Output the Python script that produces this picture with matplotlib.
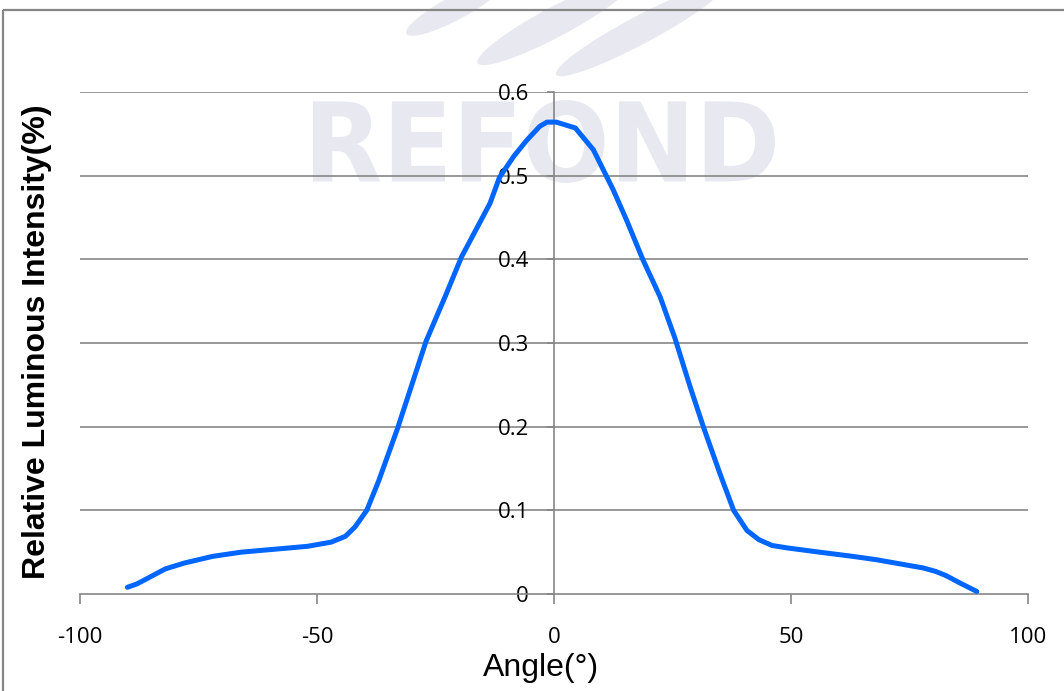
import matplotlib
matplotlib.use("Agg")
import matplotlib.pyplot as plt
from matplotlib.patches import Rectangle, Ellipse, PathPatch
from matplotlib.textpath import TextPath
from matplotlib.font_manager import FontProperties
from matplotlib.transforms import Affine2D

# beam profile
angle = [-90, -88, -85, -82, -78, -72, -66, -60, -52, -47, -44, -42, -39.5, -37,
         -33, -30, -27, -23, -19.5, -16.5, -13.5, -11.5, -8.5, -5.8, -3, -1.5,
         0.5, 4.5, 8.3, 12.5, 15.3, 18.8, 22.4, 25.5, 28.7, 31.5, 35, 37.9,
         40.7, 43.2, 46, 49.3, 56, 63, 68, 72, 78, 80.5, 82.7, 85.7, 89.2]
intensity = [0.008, 0.012, 0.021, 0.030, 0.037, 0.045, 0.050, 0.053, 0.057,
             0.062, 0.069, 0.080, 0.100, 0.135, 0.198, 0.250, 0.302, 0.355,
             0.403, 0.435, 0.467, 0.498, 0.523, 0.542, 0.559, 0.564, 0.564,
             0.557, 0.531, 0.483, 0.447, 0.399, 0.355, 0.306, 0.248, 0.200,
             0.144, 0.100, 0.076, 0.065, 0.058, 0.055, 0.050, 0.045, 0.041,
             0.037, 0.031, 0.027, 0.022, 0.013, 0.003]
x_ticks = [-100, -50, 0, 50, 100]
y_ticks = [0, 0.1, 0.2, 0.3, 0.4, 0.5, 0.6]

W, H = 1064, 691
GRAY = '#868686'
WM = '#e8e9f0'

fig = plt.figure(figsize=(W / 100, H / 100), dpi=100)
# pixel coords, origin top-left
px = Affine2D().scale(1, -1).translate(0, H)

# outer chart frame
fig.patches.append(Rectangle((3, 10), W + 20, H + 20, transform=px, fill=False,
                             edgecolor=GRAY, linewidth=1.6, zorder=0.5))

# watermark logo
for cx, cy, ln, wd in [(455, 8, 110, 24), (555, 22, 175, 30), (640, 30, 190, 28)]:
    fig.patches.append(Ellipse((cx, cy), ln, wd, angle=-28, transform=px,
                               facecolor=WM, edgecolor='none', zorder=0))
tp = TextPath((0, 0), 'REFOND', size=100,
              prop=FontProperties(family='DejaVu Sans', weight='bold'))
ext = tp.get_extents()
x0, x1, y0, y1 = 313, 775, H - 183, H - 100
tr = Affine2D().translate(-ext.x0, -ext.y0).scale((x1 - x0) / ext.width,
                                                  (y1 - y0) / ext.height).translate(x0, y0)
fig.patches.append(PathPatch(tr.transform_path(tp), transform=None,
                             facecolor=WM, edgecolor='none', zorder=0))

ax = fig.add_axes([80 / W, 1 - 594 / H, 948 / W, 502 / H])
ax.set_zorder(1)
ax.patch.set_alpha(0)

ax.plot(angle, intensity, color='#0066ff', linewidth=3.6, solid_capstyle='round',
        solid_joinstyle='round', zorder=3)

ax.set_xlim(-100, 100)
ax.set_ylim(0, 0.6)
ax.set_xticks(x_ticks)
ax.set_yticks(y_ticks)
ax.set_xticklabels([str(v) for v in x_ticks])
ax.set_yticklabels(['0' if v == 0 else f'{v:.1f}' for v in y_ticks])

for y in y_ticks[1:]:
    ax.axhline(y, color=GRAY, linewidth=1.2, zorder=1)

ax.spines['top'].set_visible(False)
ax.spines['right'].set_visible(False)
ax.spines['left'].set_position(('data', 0))
for s in ('left', 'bottom'):
    ax.spines[s].set_color(GRAY)
    ax.spines[s].set_linewidth(1.2)

ax.tick_params(axis='x', direction='out', length=7, width=1.2, color=GRAY,
               labelsize=16, pad=17)
ax.tick_params(axis='y', direction='out', length=5, width=1.2, color=GRAY,
               labelsize=16, pad=13)
for lab in ax.get_xticklabels() + ax.get_yticklabels():
    lab.set_family('Open Sans')

fig.text(37 / W, 1 - 342 / H, 'Relative Luminous Intensity(%)', rotation=90,
         ha='center', va='center', fontsize=23, fontweight='bold',
         family='Liberation Sans')
fig.text(541 / W, 1 - 668 / H, 'Angle(°)', ha='center', va='center',
         fontsize=23, family='Liberation Sans')

fig.savefig('out.png', dpi=100)
